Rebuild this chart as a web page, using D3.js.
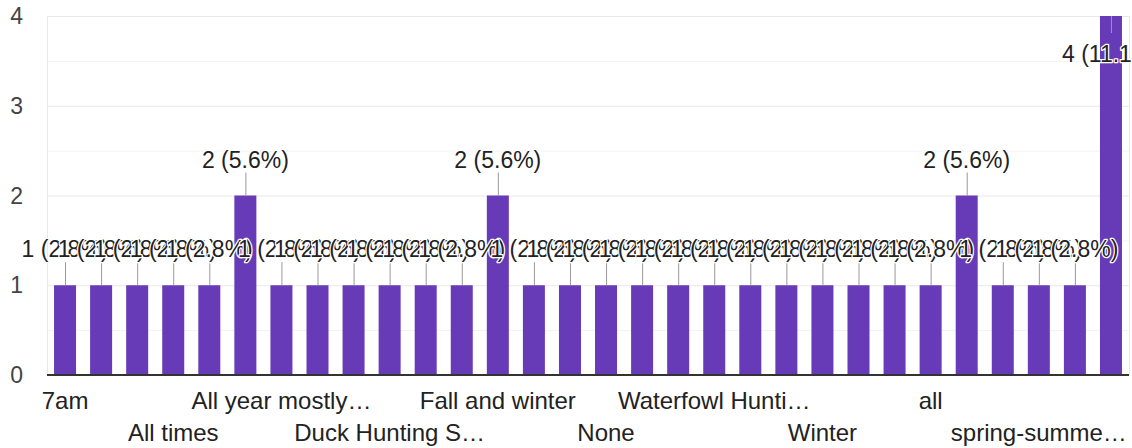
<!DOCTYPE html>
<meta charset="utf-8">
<style>
body { margin: 0; background: #fff; }
svg { font-family: "Liberation Sans", Arial, sans-serif; }
.grid line { stroke: #e8e8e8; }
.grid-minor line { stroke: #f2f2f2; }
.bar { fill: #673ab7; }
.stem { stroke: #999; stroke-width: 1; }
.note {
  fill: #222; font-size: 23px; text-anchor: middle;
  stroke: #fff; stroke-width: 2.5; stroke-linejoin: round; paint-order: stroke;
}
.ylab { fill: #444; font-size: 23px; text-anchor: end; }
.xlab { fill: #222; font-size: 24px; text-anchor: middle; }
</style>
<svg width="1132" height="448"></svg>
<script src="https://cdn.jsdelivr.net/npm/d3@7"></script>
<script>

var categories = [
  "7am", "Afternoon", "All seasons", "All times", "All year", "All year long",
  "All year mostly in the fall", "Autumn", "Dawn", "Duck Hunting Season",
  "Early morning", "Evenings", "Fall and winter", "Fall, winter", "Mornings",
  "None", "Spring", "Summer", "Waterfowl Hunting Season", "Weekends",
  "When I can", "Winter", "Year round", "Yearly", "all", "fall", "mornings",
  "spring-summer-fall", "summer", "winter"
];
var counts = [
  1, 1, 1, 1, 1, 2,
  1, 1, 1, 1,
  1, 1, 2, 1, 1,
  1, 1, 1, 1, 1,
  1, 1, 1, 1, 1, 2, 1,
  1, 1, 4
];
// labels shown under every third bar
var tickLabels = [
  "7am", "All times", "All year mostly…", "Duck Hunting S…", "Fall and winter",
  "None", "Waterfowl Hunti…", "Winter", "all", "spring-summe…"
];
var yTicks = [0, 1, 2, 3, 4];
var yMinor = [0.5, 1.5, 2.5, 3.5];

var svg = d3.select("svg"),
    margin = {top: 16, right: 3, bottom: 73, left: 47},
    width = +svg.attr("width") - margin.left - margin.right,
    height = +svg.attr("height") - margin.top - margin.bottom;

var total = d3.sum(counts);

var x = d3.scaleBand().domain(categories).range([0, width]).paddingInner(0.39).paddingOuter(0.195),
    y = d3.scaleLinear().domain([0, 4]).range([height, 0]);

var g = svg.append("g")
    .attr("transform", "translate(" + margin.left + "," + margin.top + ")");

// grid
g.append("g").attr("class", "grid-minor")
  .selectAll("line").data(yMinor).enter().append("line")
    .attr("x1", 0).attr("x2", width)
    .attr("y1", function(d) { return y(d) + 0.5; })
    .attr("y2", function(d) { return y(d) + 0.5; });

g.append("g").attr("class", "grid")
  .selectAll("line").data(yTicks).enter().append("line")
    .attr("x1", 0).attr("x2", width)
    .attr("y1", function(d) { return y(d) + 0.5; })
    .attr("y2", function(d) { return y(d) + 0.5; });

g.append("g").attr("class", "grid")
  .selectAll("line").data([0, width]).enter().append("line")
    .attr("x1", function(d) { return d + 0.5; })
    .attr("x2", function(d) { return d + 0.5; })
    .attr("y1", 0).attr("y2", height);

// y labels
g.selectAll(".ylab").data(yTicks).enter().append("text")
    .attr("class", "ylab")
    .attr("x", -24)
    .attr("y", function(d) { return y(d) + 8; })
    .text(function(d) { return d; });

// bars
g.selectAll(".bar").data(counts).enter().append("rect")
    .attr("class", "bar")
    .attr("x", function(d, i) { return x(categories[i]); })
    .attr("y", function(d) { return y(d); })
    .attr("width", x.bandwidth())
    .attr("height", function(d) { return height - y(d); });

// x axis line
g.append("line")
    .attr("x1", 0).attr("x2", width)
    .attr("y1", height).attr("y2", height)
    .attr("stroke", "#333").attr("stroke-width", 2);

// annotations
function inside(d) { return y(d) < 45; }
function cx(i) { return x(categories[i]) + x.bandwidth() / 2; }

g.selectAll(".stem").data(counts).enter().append("line")
    .attr("class", "stem")
    .attr("x1", function(d, i) { return cx(i) + 0.5; })
    .attr("x2", function(d, i) { return cx(i) + 0.5; })
    .attr("y1", function(d) { return y(d); })
    .attr("y2", function(d) { return inside(d) ? y(d) + 17 : y(d) - 23; });

g.selectAll(".note").data(counts).enter().append("text")
    .attr("class", "note")
    .attr("x", function(d, i) { return cx(i); })
    .attr("y", function(d) { return inside(d) ? y(d) + 46 : y(d) - 28; })
    .text(function(d) { return d + " (" + (d / total * 100).toFixed(1) + "%)"; });

// x labels, two rows
g.selectAll(".xlab").data(tickLabels).enter().append("text")
    .attr("class", "xlab")
    .attr("x", function(d, j) { return cx(j * 3); })
    .attr("y", function(d, j) { return height + (j % 2 === 0 ? 34 : 66); })
    .text(function(d) { return d; });

</script>
